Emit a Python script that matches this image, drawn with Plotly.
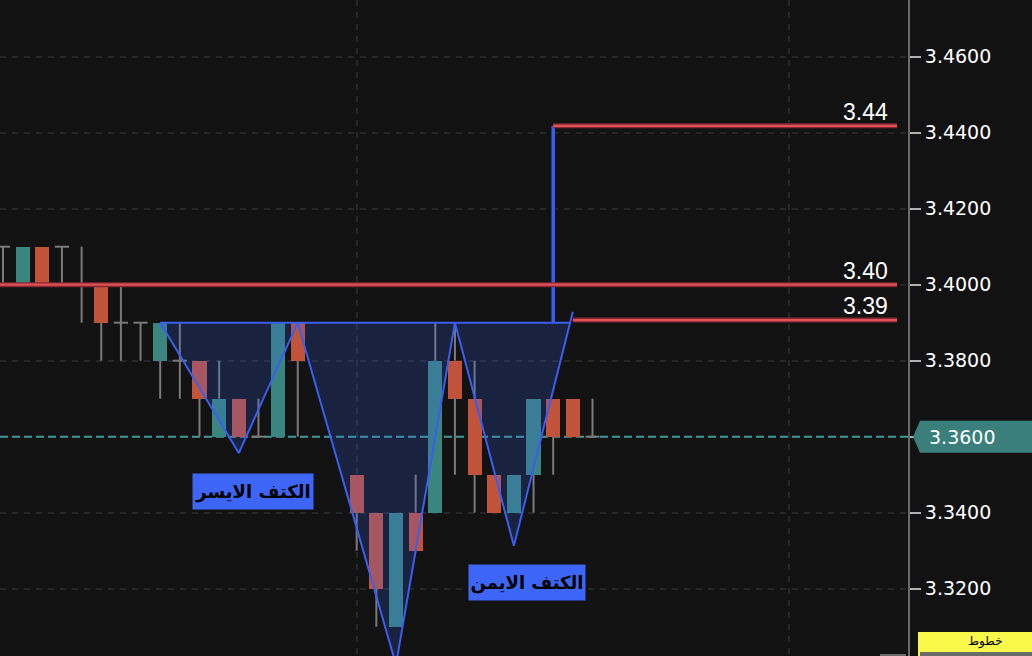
import plotly.graph_objects as go

# ---------------- data ----------------
bar_index = list(range(31))
opens  = [3.41, 3.40, 3.41, 3.41, 3.40, 3.40, 3.39, 3.39, 3.38, 3.38, 3.38, 3.36, 3.37, 3.36, 3.36, 3.39,
          None, None,
          3.35, 3.34, 3.31, 3.34, 3.34, 3.38, 3.37, 3.35, 3.34, 3.35, 3.37, 3.37, 3.36]
highs  = [3.41, 3.41, 3.41, 3.41, 3.41, 3.40, 3.40, 3.39, 3.39, 3.39, 3.38, 3.38, 3.37, 3.37, 3.39, 3.39,
          None, None,
          3.35, 3.34, 3.34, 3.35, 3.39, 3.39, 3.38, 3.35, 3.35, 3.37, 3.37, 3.37, 3.37]
lows   = [3.40, 3.40, 3.40, 3.40, 3.39, 3.38, 3.38, 3.38, 3.37, 3.37, 3.36, 3.36, 3.36, 3.36, 3.36, 3.36,
          None, None,
          3.33, 3.31, 3.31, 3.33, 3.34, 3.35, 3.34, 3.34, 3.34, 3.34, 3.35, 3.36, 3.36]
closes = [3.41, 3.41, 3.40, 3.41, 3.40, 3.39, 3.39, 3.39, 3.39, 3.38, 3.37, 3.37, 3.36, 3.36, 3.39, 3.38,
          None, None,
          3.34, 3.32, 3.34, 3.33, 3.38, 3.37, 3.35, 3.34, 3.35, 3.37, 3.36, 3.36, 3.36]

# inverse head & shoulders zigzag (bar index, price)
pattern_x = [8, 12, 15, 20, 23, 26, 29]
pattern_y = [3.39, 3.3557, 3.39, 3.30, 3.39, 3.3313, 3.3929]
neckline = 3.39

# horizontal levels
level_values = [3.4418, 3.4000, 3.3907]
level_labels = ["3.44", "3.40", "3.39"]
level_starts = [28, None, 29]          # None = from left edge
target_bar = 28                        # vertical measuring line

shoulder_labels = ["الكتف الايسر", "الكتف الايمن"]
last_price = 3.36
y_ticks = [3.32, 3.34, 3.36, 3.38, 3.40, 3.42, 3.44, 3.46]
x_grid = [18, 40]
corner_tag = "خطوط"

# ---------------- styling ----------------
BG = "#121212"
TEAL = "#3a857f"
ORANGE = "#c2533b"
WICK = "#7a7a7a"
BLUE = "#3a5ef0"
GRID = "#262626"
px_per_bar = 19.65
plot_w = 908
x0 = -3 / px_per_bar
x1 = x0 + plot_w / px_per_bar
y_top = 3.46 + 56.7 / 3800
y_bot = y_top - 656 / 3800
half_body = 0.36

fig = go.Figure()

# bodies
bx, bbase, bh, bcol = [], [], [], []
for i, o, c in zip(bar_index, opens, closes):
    if o is None or o == c:
        continue
    bx.append(i)
    bbase.append(min(o, c))
    bh.append(abs(c - o))
    bcol.append(TEAL if c > o else ORANGE)
fig.add_trace(go.Bar(x=bx, y=bh, base=bbase, width=2 * half_body,
                     marker=dict(color=bcol, line=dict(width=0)),
                     hoverinfo="skip", showlegend=False))

# wicks (outside bodies) and doji ticks
wx, wy = [], []
for i, o, h, l, c in zip(bar_index, opens, highs, lows, closes):
    if o is None:
        continue
    top, bot = max(o, c), min(o, c)
    if h > top:
        wx += [i, i, None]; wy += [top, h, None]
    if l < bot:
        wx += [i, i, None]; wy += [bot, l, None]
    if o == c:
        wx += [i - half_body, i + half_body, None]; wy += [o, o, None]
fig.add_trace(go.Scatter(x=wx, y=wy, mode="lines", line=dict(color=WICK, width=2),
                         hoverinfo="skip", showlegend=False))

# pattern fill (zigzag closed by neckline)
cross_x = pattern_x[-2] + (neckline - pattern_y[-2]) / (pattern_y[-1] - pattern_y[-2]) * (pattern_x[-1] - pattern_x[-2])
fill_x = pattern_x[:-1] + [cross_x, pattern_x[0]]
fill_y = pattern_y[:-1] + [neckline, neckline]
fig.add_trace(go.Scatter(x=fill_x, y=fill_y, mode="lines", fill="toself",
                         fillcolor="rgba(54,99,244,0.2)", line=dict(width=0),
                         hoverinfo="skip", showlegend=False))
fig.add_trace(go.Scatter(x=[pattern_x[0], cross_x], y=[neckline, neckline], mode="lines",
                         line=dict(color=BLUE, width=2), hoverinfo="skip", showlegend=False))
fig.add_trace(go.Scatter(x=pattern_x, y=pattern_y, mode="lines",
                         line=dict(color=BLUE, width=2), hoverinfo="skip", showlegend=False))
# vertical measuring line
fig.add_trace(go.Scatter(x=[target_bar, target_bar], y=[neckline, level_values[0]], mode="lines",
                         line=dict(color=BLUE, width=3.5), hoverinfo="skip", showlegend=False))

# red level lines + labels
line_end = x0 + 897 / px_per_bar
label_end = x0 + 890 / px_per_bar
for val, lab, st in zip(level_values, level_labels, level_starts):
    xs = x0 if st is None else st
    fig.add_shape(type="line", x0=xs, x1=line_end, y0=val, y1=val, xref="x", yref="y",
                  line=dict(color="#862a30", width=5), layer="above")
    fig.add_shape(type="line", x0=xs, x1=line_end, y0=val, y1=val, xref="x", yref="y",
                  line=dict(color="#e0505a", width=2.2), layer="above")
    fig.add_annotation(x=label_end, y=val, xref="x", yref="y", text=lab, showarrow=False,
                       xanchor="right", yanchor="bottom", yshift=-1,
                       font=dict(family="Liberation Sans", size=23, color="#ffffff"))

# last price dashed line (above grid, below candles)
fig.add_shape(type="line", x0=x0, x1=x1, y0=last_price, y1=last_price, xref="x", yref="y",
              line=dict(color="#3f9a95", width=2, dash="8px,4px"), layer="between")

# shoulder labels
for lab, (lx, ly, w) in zip(shoulder_labels, [(12.7, 3.3455, 120), (26.68, 3.3216, 116)]):
    fig.add_annotation(x=lx, y=ly, xref="x", yref="y", text=f"<b>{lab}</b>", showarrow=False,
                       bgcolor="#3d66f7", width=w, height=35, borderpad=0,
                       font=dict(family="DejaVu Sans", size=18, color="#000000"))

# price tag on axis
h = 16 / 3800
xt, xl, xr = 913 / plot_w, 920 / plot_w, 1040 / plot_w
fig.add_shape(type="path", xref="paper", yref="y",
              path=f"M {xt},{last_price} L {xl},{last_price + h} L {xr},{last_price + h} "
                   f"L {xr},{last_price - h} L {xl},{last_price - h} Z",
              fillcolor="#3a7f7b", line=dict(width=0), layer="above")
fig.add_annotation(x=927 / plot_w, y=last_price, xref="paper", yref="y", text=f"{last_price:.4f}",
                   showarrow=False, xanchor="left", yanchor="middle",
                   font=dict(family="DejaVu Sans", size=19, color="#ffffff"))

# bottom-right yellow tag and scrollbar bits
fig.add_shape(type="rect", xref="paper", yref="paper", x0=918 / plot_w, x1=1040 / plot_w,
              y0=0, y1=24 / 656, fillcolor="#f8f84a", line=dict(width=0), layer="above")
fig.add_shape(type="rect", xref="paper", yref="paper", x0=920 / plot_w, x1=1040 / plot_w,
              y0=0, y1=4 / 656, fillcolor="#6a6a6a", line=dict(width=0), layer="above")
fig.add_annotation(x=985 / plot_w, y=15 / 656, xref="paper", yref="paper", text=corner_tag,
                   showarrow=False, xanchor="center", yanchor="middle", borderpad=0,
                   font=dict(family="DejaVu Sans", size=12, color="#000000"))
fig.add_shape(type="rect", xref="paper", yref="paper", x0=880 / plot_w, x1=906 / plot_w,
              y0=0, y1=2 / 656, fillcolor="#6a6a6a", line=dict(width=0), layer="above")

fig.update_layout(
    width=1032, height=656,
    margin=dict(l=0, r=1032 - plot_w, t=0, b=0),
    paper_bgcolor=BG, plot_bgcolor=BG,
    showlegend=False, bargap=0,
    xaxis=dict(range=[x0, x1], showticklabels=False, ticks="", tickvals=x_grid,
               showgrid=True, gridcolor=GRID, gridwidth=1.5, griddash="6px,6px",
               zeroline=False, showline=False, fixedrange=True),
    yaxis=dict(range=[y_bot, y_top], side="right", tickvals=y_ticks,
               ticktext=["" if abs(v - last_price) < 1e-9 else f"{v:.4f}" for v in y_ticks],
               ticks="outside", ticklen=11, tickwidth=2, tickcolor="#b0b0b0",
               tickfont=dict(family="DejaVu Sans", size=19, color="#ffffff"),
               showline=True, linecolor="#6a6a6a", linewidth=2,
               showgrid=True, gridcolor=GRID, gridwidth=1.5, griddash="6px,6px",
               zeroline=False, fixedrange=True),
)

fig.write_html("out.html", config={"displayModeBar": False},
               post_script="document.body.style.margin='0';document.body.style.overflow='hidden';")
